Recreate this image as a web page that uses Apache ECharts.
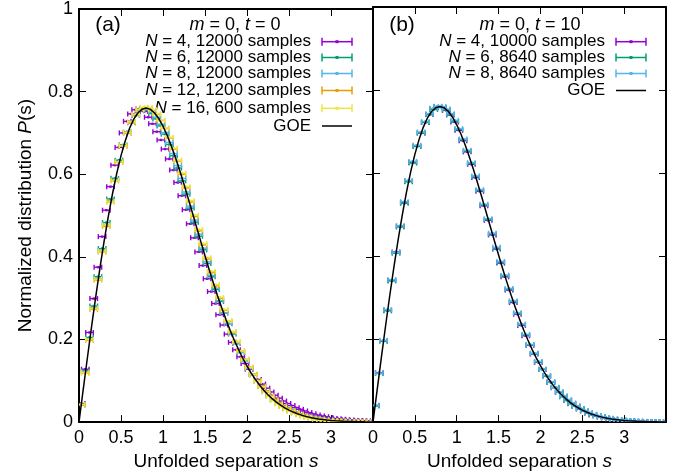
<!DOCTYPE html>
<html><head><meta charset="utf-8">
<script src="https://cdn.jsdelivr.net/npm/echarts@6/dist/echarts.min.js"></script>
<style>html,body{margin:0;padding:0;background:#fff}#c{width:684px;height:476px}</style>
</head><body><div id="c"></div>
<script>
// bin centers (unfolded separation s)
const S_BINS = [0.025,0.075,0.125,0.175,0.225,0.275,0.325,0.375,0.425,0.475,0.525,0.575,0.625,0.675,0.725,0.775,0.825,0.875,0.925,0.975,
1.025,1.075,1.125,1.175,1.225,1.275,1.325,1.375,1.425,1.475,1.525,1.575,1.625,1.675,1.725,1.775,1.825,1.875,1.925,1.975,
2.025,2.075,2.125,2.175,2.225,2.275,2.325,2.375,2.425,2.475,2.525,2.575,2.625,2.675,2.725,2.775,2.825,2.875,2.925,2.975,
3.025,3.075,3.125,3.175,3.225,3.275,3.325,3.375,3.425,3.475];

// panel (a): m=0, t=0
const A_N4  = [.045,.128,.217,.299,.375,.449,.513,.570,.622,.665,.700,.728,.746,.756,.758,.752,.738,.722,.703,.683,.661,.637,.610,.580,.548,.514,.480,.446,.412,.379,.347,.316,.287,.260,.235,.213,.193,.175,.158,.142,.128,.115,.103,.092,.082,.073,.065,.058,.051,.045,.040,.035,.031,.027,.023,.020,.017,.015,.013,.011,.009,.008,.007,.006,.005,.004,.004,.003,.003,.002];
const A_N6  = [.043,.124,.205,.281,.352,.420,.483,.540,.590,.634,.671,.702,.726,.743,.754,.758,.755,.747,.734,.717,.697,.672,.645,.615,.584,.552,.518,.484,.450,.417,.384,.352,.321,.292,.264,.238,.213,.190,.169,.149,.131,.115,.100,.087,.075,.064,.055,.047,.040,.034,.029,.024,.020,.017,.014,.012,.010,.008,.007,.006,.005,.004,.003,.003,.002,.002,.001,.001,.001,.001];
const A_N8  = [.042,.122,.201,.277,.348,.416,.478,.536,.587,.631,.669,.700,.724,.742,.754,.759,.757,.750,.738,.721,.701,.677,.650,.621,.590,.557,.523,.489,.455,.421,.388,.355,.324,.294,.265,.239,.214,.190,.168,.148,.130,.114,.099,.086,.074,.063,.054,.046,.039,.033,.028,.023,.019,.016,.013,.011,.009,.007,.006,.005,.004,.003,.003,.002,.002,.001,.001,.001,.001,.000];
const A_N12 = [.041,.119,.198,.273,.344,.412,.474,.533,.584,.629,.668,.700,.725,.744,.756,.761,.760,.755,.745,.730,.711,.688,.661,.632,.600,.567,.533,.498,.463,.429,.395,.362,.330,.300,.271,.244,.218,.194,.172,.152,.133,.116,.101,.087,.075,.064,.055,.046,.039,.033,.028,.023,.019,.016,.013,.010,.008,.007,.005,.004,.003,.003,.002,.002,.001,.001,.001,.001,.000,.000];
const A_N16 = [.043,.120,.200,.275,.346,.414,.477,.534,.585,.630,.669,.701,.727,.745,.757,.762,.761,.756,.746,.731,.712,.689,.663,.634,.603,.570,.536,.501,.466,.432,.398,.365,.333,.302,.273,.245,.219,.195,.172,.151,.132,.115,.099,.085,.073,.062,.052,.044,.037,.031,.026,.021,.017,.014,.011,.009,.007,.006,.005,.004,.003,.002,.002,.001,.001,.001,.001,.000,.000,.000];

// panel (b): m=0, t=10
const B_N4 = [.040,.119,.196,.270,.342,.410,.472,.529,.581,.626,.665,.697,.722,.741,.755,.760,.758,.751,.740,.723,.703,.678,.651,.621,.589,.556,.521,.486,.451,.417,.383,.350,.318,.288,.260,.233,.208,.185,.164,.144,.127,.111,.096,.083,.072,.062,.053,.045,.038,.032,.027,.022,.018,.015,.012,.010,.008,.007,.005,.004,.003,.003,.002,.002,.001,.001,.001,.001,.000,.000];
const B_N6 = [.039,.117,.195,.268,.340,.407,.470,.527,.579,.624,.664,.696,.722,.741,.753,.759,.758,.752,.741,.725,.705,.680,.653,.623,.591,.558,.523,.488,.453,.419,.385,.352,.320,.290,.262,.235,.210,.186,.165,.145,.127,.111,.096,.083,.072,.061,.052,.044,.038,.032,.027,.022,.018,.015,.013,.010,.008,.007,.006,.005,.004,.003,.002,.002,.001,.001,.001,.001,.001,.000];
const B_N8 = [.041,.118,.197,.271,.343,.409,.473,.531,.582,.628,.667,.699,.724,.743,.756,.761,.760,.754,.743,.727,.707,.682,.655,.625,.593,.560,.525,.490,.455,.421,.387,.354,.322,.292,.263,.236,.211,.187,.166,.146,.128,.112,.097,.084,.073,.063,.054,.046,.039,.033,.028,.023,.019,.016,.013,.011,.009,.007,.006,.005,.004,.003,.003,.002,.002,.001,.001,.001,.001,.001];

// GOE curve
const GOE_S = [0,0.05,0.1,0.15,0.2,0.25,0.3,0.35,0.4,0.45,0.5,0.55,0.6,0.65,0.7,0.75,0.8,0.85,0.9,0.95,1.0,1.05,1.1,1.15,1.2,1.25,1.3,1.35,1.4,1.45,1.5,1.55,1.6,1.65,1.7,1.75,1.8,1.85,1.9,1.95,2.0,2.05,2.1,2.15,2.2,2.25,2.3,2.35,2.4,2.45,2.5,2.55,2.6,2.65,2.7,2.75,2.8,2.85,2.9,2.95,3.0,3.05,3.1,3.15,3.2,3.25,3.3,3.35,3.4,3.45,3.5];
const GOE_P = [0,.0784,.1558,.2315,.3044,.3739,.4391,.4993,.5540,.6027,.6450,.6805,.7101,.7327,.7483,.7574,.7602,.7570,.7483,.7345,.7162,.6939,.6680,.6393,.6083,.5756,.5415,.5068,.4717,.4369,.4025,.3690,.3366,.3055,.2760,.2481,.2219,.1977,.1752,.1546,.1358,.1187,.1033,.0895,.0772,.0663,.0567,.0482,.0409,.0345,.0290,.0243,.0202,.0168,.0138,.0114,.0093,.0076,.0061,.0050,.0040,.0032,.0026,.0020,.0016,.0013,.0010,.0008,.0006,.0005,.0004];

const X_TICKS = ['0','0.5','1','1.5','2','2.5','3'];
const Y_TICKS = ['0','0.2','0.4','0.6','0.8','1'];

const LEG_A = [
  ['4', '12000'], ['6', '12000'], ['8', '12000'], ['12', '1200'], ['16', '600']
];
const LEG_B = [
  ['4', '10000'], ['6', '8640'], ['8', '8640']
];

const C_PURPLE = '#9400d3', C_GREEN = '#009e73', C_CYAN = '#56b4e9', C_ORANGE = '#e69f00', C_YELLOW = '#f0e442';
const FONT = '"Liberation Sans", Arial, Helvetica, sans-serif';
const HALF_BIN = 0.045;

function pairs(xs, ys){ return xs.map((x,i)=>[x, ys[i]]); }

function errSeries(name, color, vals, xi, yi){
  return {
    type:'custom', name, xAxisIndex:xi, yAxisIndex:yi, clip:true,
    data: pairs(S_BINS, vals),
    encode:{x:0,y:1},
    renderItem:function(params, api){
      const s = api.value(0), p = api.value(1);
      const a = api.coord([s-HALF_BIN, p]), b = api.coord([s+HALF_BIN, p]), c = api.coord([s,p]);
      const st = {stroke:color, lineWidth:1.4};
      return {type:'group', children:[
        {type:'line', shape:{x1:a[0],y1:a[1],x2:b[0],y2:b[1]}, style:st},
        {type:'line', shape:{x1:a[0],y1:a[1]-2.5,x2:a[0],y2:a[1]+2.5}, style:st},
        {type:'line', shape:{x1:b[0],y1:b[1]-2.5,x2:b[0],y2:b[1]+2.5}, style:st},
        {type:'rect', shape:{x:c[0]-1.2,y:c[1]-1.2,width:2.4,height:2.4}, style:{fill:color}}
      ]};
    }
  };
}

function xAx(grid, pos, withLabel){
  return {
    type:'value', gridIndex:grid, position:pos, min:0, max:3.5, interval:0.5,
    axisLine:{show:true, onZero:false, lineStyle:{color:'#000', width:2}},
    axisTick:{show:true, inside:true, length:7, lineStyle:{color:'#000', width:1}},
    splitLine:{show:false},
    axisLabel:{show:withLabel, margin:7, color:'#000', fontSize:18, fontFamily:FONT,
      formatter:(v)=>{ const i = Math.round(v/0.5); return i < X_TICKS.length ? X_TICKS[i] : ''; }},
    name: withLabel ? 'Unfolded separation {i|s}' : '',
    nameLocation:'middle', nameGap:26,
    nameTextStyle:{color:'#000', fontSize:19, fontFamily:FONT, rich:{i:{fontStyle:'italic', fontSize:19, fontFamily:FONT, color:'#000'}}}
  };
}
function yAx(grid, pos, withLabel){
  return {
    type:'value', gridIndex:grid, position:pos, min:0, max:1, interval:0.2,
    axisLine:{show:true, onZero:false, lineStyle:{color:'#000', width:2}},
    axisTick:{show:true, inside:true, length:7, lineStyle:{color:'#000', width:1}},
    splitLine:{show:false},
    axisLabel:{show:withLabel, margin:6, color:'#000', fontSize:18, fontFamily:FONT,
      formatter:(v)=>Y_TICKS[Math.round(v/0.2)]},
    name: withLabel ? 'Normalized distribution {i|P}(s)' : '',
    nameLocation:'middle', nameGap:44, nameRotate:90,
    nameTextStyle:{color:'#000', fontSize:19, fontFamily:FONT, rich:{i:{fontStyle:'italic', fontSize:19, fontFamily:FONT, color:'#000'}}}
  };
}

function legendRows(rows, colors, textRight, lineX1, lineX2, ys, goeY){
  const els = [];
  rows.forEach((r, i)=>{
    const y = ys[i];
    els.push({type:'text', x:textRight, y:y, style:{
      text:'{i|N} = ' + r[0] + ', ' + r[1] + ' samples',
      font:'17px ' + FONT, fill:'#000', align:'right', verticalAlign:'middle', textAlign:'right', textVerticalAlign:'middle',
      rich:{i:{fontStyle:'italic', fontSize:17, fontFamily:FONT}}}});
    const c = colors[i];
    els.push({type:'line', shape:{x1:lineX1,y1:y,x2:lineX2,y2:y}, style:{stroke:c,lineWidth:1.5}});
    els.push({type:'line', shape:{x1:lineX1,y1:y-4,x2:lineX1,y2:y+4}, style:{stroke:c,lineWidth:1.5}});
    els.push({type:'line', shape:{x1:lineX2,y1:y-4,x2:lineX2,y2:y+4}, style:{stroke:c,lineWidth:1.5}});
    els.push({type:'rect', shape:{x:(lineX1+lineX2)/2-1.5,y:y-1.5,width:3,height:3}, style:{fill:c}});
  });
  els.push({type:'text', x:textRight, y:goeY, style:{text:'GOE', font:'17px ' + FONT, fill:'#000', align:'right', verticalAlign:'middle', textAlign:'right', textVerticalAlign:'middle'}});
  els.push({type:'line', shape:{x1:lineX1,y1:goeY,x2:lineX2,y2:goeY}, style:{stroke:'#000',lineWidth:1.5}});
  return els;
}

const titleRich = {i:{fontStyle:'italic', fontSize:18, fontFamily:FONT}};
const graphics = [
  {type:'text', x:108, y:25, style:{text:'(a)', font:'21px ' + FONT, fill:'#000', align:'center', verticalAlign:'middle', textAlign:'center', textVerticalAlign:'middle'}},
  {type:'text', x:402, y:25, style:{text:'(b)', font:'21px ' + FONT, fill:'#000', align:'center', verticalAlign:'middle', textAlign:'center', textVerticalAlign:'middle'}},
  {type:'text', x:235, y:25, style:{text:'{i|m} = 0, {i|t} = 0', font:'18px ' + FONT, fill:'#000', align:'center', verticalAlign:'middle', textAlign:'center', textVerticalAlign:'middle', rich:titleRich}},
  {type:'text', x:530, y:25, style:{text:'{i|m} = 0, {i|t} = 10', font:'18px ' + FONT, fill:'#000', align:'center', verticalAlign:'middle', textAlign:'center', textVerticalAlign:'middle', rich:titleRich}}
].concat(
  legendRows(LEG_A, [C_PURPLE,C_GREEN,C_CYAN,C_ORANGE,C_YELLOW], 311, 322, 352, [41.7,57.5,73.5,90.5,108.3], 126),
  legendRows(LEG_B, [C_PURPLE,C_GREEN,C_CYAN], 605, 616, 646, [41.7,57.5,73.5], 90.5)
);

const chart = echarts.init(document.getElementById('c'), null, {renderer:'canvas'});
chart.setOption({
  animation:false,
  backgroundColor:'#fff',
  grid:[
    {left:79, top:7, width:294, height:419},
    {left:373, top:7, width:293, height:419}
  ],
  xAxis:[xAx(0,'bottom',true), xAx(0,'top',false), xAx(1,'bottom',true), xAx(1,'top',false)],
  yAxis:[yAx(0,'left',true), yAx(0,'right',false), yAx(1,'left',false), yAx(1,'right',false)],
  series:[
    errSeries('A N4', C_PURPLE, A_N4, 0, 0),
    errSeries('A N6', C_GREEN, A_N6, 0, 0),
    errSeries('A N8', C_CYAN, A_N8, 0, 0),
    errSeries('A N12', C_ORANGE, A_N12, 0, 0),
    errSeries('A N16', C_YELLOW, A_N16, 0, 0),
    {type:'line', name:'GOE a', xAxisIndex:0, yAxisIndex:0, data:pairs(GOE_S, GOE_P), showSymbol:false, symbol:'none', smooth:false, lineStyle:{color:'#000', width:1.5}, z:5},
    errSeries('B N4', C_PURPLE, B_N4, 2, 2),
    errSeries('B N6', C_GREEN, B_N6, 2, 2),
    errSeries('B N8', C_CYAN, B_N8, 2, 2),
    {type:'line', name:'GOE b', xAxisIndex:2, yAxisIndex:2, data:pairs(GOE_S, GOE_P), showSymbol:false, symbol:'none', smooth:false, lineStyle:{color:'#000', width:1.5}, z:5}
  ],
  graphic: graphics
});
</script>
</body></html>
